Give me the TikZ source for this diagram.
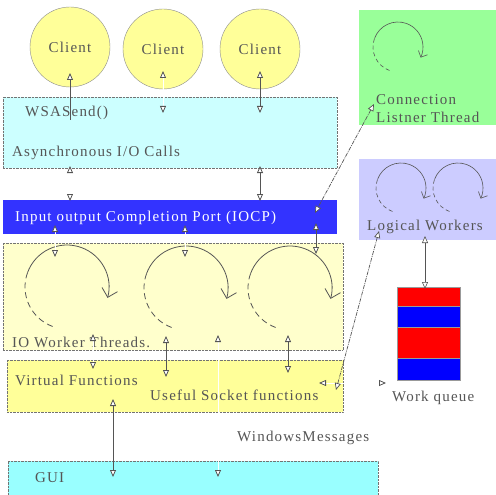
\documentclass[tikz,border=0pt]{standalone}
\usepackage{fontspec}
\setmainfont{Liberation Serif}
\newfontfamily\lblfont[LetterSpace=8.0]{Liberation Serif}
\usetikzlibrary{arrows.meta,calc}
\definecolor{clientc}{HTML}{FFFF99}
\definecolor{asyncc}{HTML}{CCFFFF}
\definecolor{iocpc}{HTML}{3333FF}
\definecolor{ioc}{HTML}{FFFFCC}
\definecolor{vfc}{HTML}{FFFF99}
\definecolor{guic}{HTML}{99FFFF}
\definecolor{greenc}{HTML}{99FF99}
\definecolor{lavc}{HTML}{CCCCFF}
\definecolor{qred}{HTML}{FF0000}
\definecolor{qblue}{HTML}{0000FF}
\definecolor{ink}{HTML}{555555}
\begin{document}
\begin{tikzpicture}[x=1pt,y=-1pt,
  box/.style={draw=black!55, densely dotted, anchor=north west, inner sep=0pt, outer sep=0pt},
  client/.style={circle, draw=black!45, fill=clientc, minimum size=80pt, inner sep=0pt, text=ink, font=\lblfont\fontsize{15}{17}\selectfont},
  lbl/.style={anchor=west, inner sep=0pt, text=ink, font=\lblfont\fontsize{15}{17}\selectfont},
  arr/.style={draw=ink, line width=0.8pt, {Triangle[length=7pt,width=6pt,fill=white,color=ink]}-{Triangle[length=7pt,width=6pt,fill=white,color=ink]}},
  warr/.style={draw=white, line width=0.8pt, {Triangle[length=7pt,width=6pt,fill=white,color=ink]}-{Triangle[length=7pt,width=6pt,fill=white,color=ink]}},
  darr/.style={draw=ink, line width=0.7pt, dash pattern=on 4pt off 1pt on 1pt off 1pt, {Triangle[length=7pt,width=6pt,fill=white,color=ink]}-{Triangle[length=7pt,width=6pt,fill=white,color=ink]}},
  loopd/.style={draw=ink, line width=0.8pt, dash pattern=on 6pt off 4pt},
  loops/.style={draw=ink, line width=0.8pt, -{Straight Barb[length=8pt,width=16pt]}}
]
\useasboundingbox (0,0) rectangle (496,495);
% boxes
\node[box, fill=asyncc, minimum width=334pt, minimum height=71pt] (async) at (3,97) {};
\node[box, fill=iocpc, draw=none, minimum width=334pt, minimum height=34pt] (iocp) at (3,200) {};
\node[box, fill=ioc, minimum width=340pt, minimum height=107pt] (io) at (3,243) {};
\node[box, fill=vfc, minimum width=336pt, minimum height=52pt] (vf) at (7,360) {};
\node[box, fill=guic, minimum width=370pt, minimum height=36pt] (gui) at (8,461) {};
\node[box, fill=greenc, draw=none, minimum width=138pt, minimum height=115pt] (green) at (359,10) {};
\node[box, fill=lavc, draw=none, minimum width=138pt, minimum height=81pt] (lav) at (359,159) {};
% work queue
\node[box, solid, draw=black!40, fill=qred, minimum width=63pt, minimum height=19pt] (q1) at (397,287) {};
\node[box, solid, draw=black!40, fill=qblue, minimum width=63pt, minimum height=21pt] (q2) at (397,306) {};
\node[box, solid, draw=black!40, fill=qred, minimum width=63pt, minimum height=31pt] (q3) at (397,327) {};
\node[box, solid, draw=black!40, fill=qblue, minimum width=63pt, minimum height=22pt] (q4) at (397,358) {};
% clients
\node[client] (c1) at (70,47) {Client};
\node[client] (c2) at (163,49) {Client};
\node[client] (c3) at (260,49) {Client};
% labels
\node[lbl] (wsa) at (25,113) {WSASend()};
\node[lbl] (asy) at (12,153) {Asynchronous I/O Calls};
\node[lbl, text=white] (iocpt) at (15,218) {Input output Completion Port (IOCP)};
\node[lbl] (iot) at (12,342) {IO Worker Threads.};
\node[lbl] (vft) at (15,380) {Virtual Functions};
\node[lbl] (usf) at (150,395) {Useful Socket functions};
\node[lbl] (wm) at (237,438) {WindowsMessages};
\node[lbl] (guit) at (35,478) {GUI};
\node[lbl] (conn) at (376,100) {Connection};
\node[lbl] (list) at (376,117) {Listner Thread};
\node[lbl] (logw) at (367,227) {Logical Workers};
\node[lbl] (wq) at (392,398) {Work queue};
% loops (y axis points down: angles are mirrored)
\coordinate (l1) at (67,287);
\coordinate (l2) at (186,288);
\coordinate (l3) at (290,288);
\foreach \c in {l1,l2,l3}{
  \draw[loopd] ([shift={(110:42)}]\c) arc[start angle=110, end angle=200, radius=42];
  \draw[loops] ([shift={(200:42)}]\c) arc[start angle=200, end angle=375, radius=42];
}
\coordinate (g1) at (398,47);
\coordinate (v1) at (401,188);
\coordinate (v2) at (458,188);
\foreach \c in {g1,v1,v2}{
  \draw[loopd, line width=0.6pt, dash pattern=on 4pt off 3pt] ([shift={(110:25)}]\c) arc[start angle=110, end angle=200, radius=25];
  \draw[loops, line width=0.6pt, -{Straight Barb[length=5pt,width=10pt]}] ([shift={(200:25)}]\c) arc[start angle=200, end angle=385, radius=25];
}
% connector coordinates
\coordinate (a1t) at (70,73); \coordinate (a1b) at (70,120);
\coordinate (a2t) at (163,71); \coordinate (a2b) at (163,113);
\coordinate (a3t) at (260,71); \coordinate (a3b) at (260,113);
\coordinate (b1t) at (70,166); \coordinate (b1b) at (70,201);
\coordinate (b2t) at (260,166); \coordinate (b2b) at (260,201);
\coordinate (d1t) at (55,225); \coordinate (d1b) at (55,257);
\coordinate (d2t) at (185,225); \coordinate (d2b) at (185,257);
\coordinate (d3t) at (316,223); \coordinate (d3b) at (316,254);
\coordinate (e1t) at (93,334); \coordinate (e1b) at (93,369);
\coordinate (e2t) at (166,336); \coordinate (e2b) at (166,377);
\coordinate (e3t) at (218,335); \coordinate (e3b) at (218,477);
\coordinate (e4t) at (288,335); \coordinate (e4b) at (288,373);
\coordinate (f1t) at (113,399); \coordinate (f1b) at (113,477);
\coordinate (hL) at (319,383); \coordinate (hR) at (386,383);
\coordinate (gA) at (374,104); \coordinate (gB) at (315,213);
\coordinate (lA) at (379,231); \coordinate (lB) at (336,390);
\coordinate (wA) at (425,236); \coordinate (wB) at (425,289);
% connectors
\draw[draw=ink, line width=0.8pt, -{Triangle[length=7pt,width=6pt,fill=white,color=ink]}] (a1b) -- (a1t);
\draw[warr] (a2t) -- (a2b);
\draw[arr] (a3t) -- (a3b);
\draw[warr] (b1t) -- (b1b);
\draw[arr] (b2t) -- (b2b);
\draw[warr] (d1t) -- (d1b);
\draw[warr] (d2t) -- (d2b);
\draw[arr] (d3t) -- (d3b);
\draw[warr] (e1t) -- (e1b);
\draw[arr] (e2t) -- (e2b);
\draw[warr] (e3t) -- (e3b);
\draw[arr] (e4t) -- (e4b);
\draw[arr] (f1t) -- (f1b);
\draw[warr] (hL) -- (hR);
\draw[darr] (gA) -- (gB);
\draw[darr] (lA) -- (lB);
\draw[arr, line width=0.6pt] (wA) -- (wB);
\end{tikzpicture}
\end{document}
